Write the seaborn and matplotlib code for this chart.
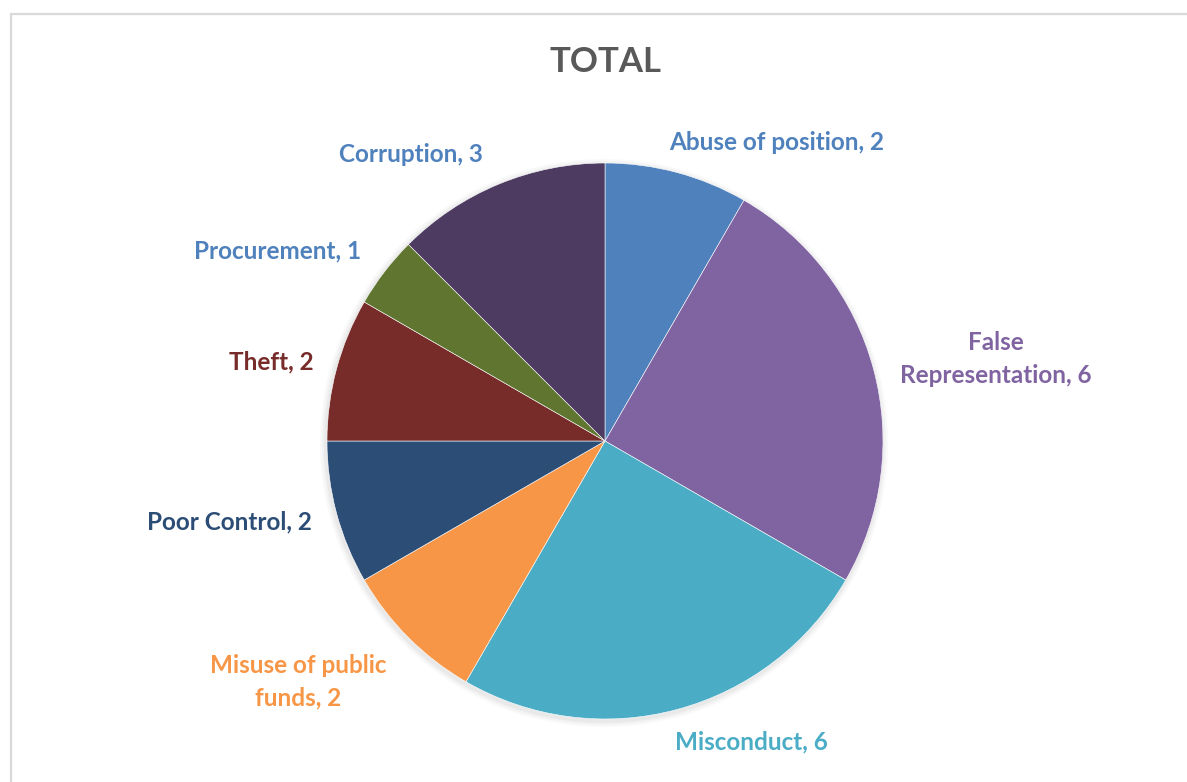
import matplotlib
matplotlib.use("Agg")
import matplotlib.pyplot as plt
import seaborn as sns
from matplotlib.patches import Rectangle

categories = ["Abuse of position", "False Representation", "Misconduct",
              "Misuse of public funds", "Poor Control", "Theft",
              "Procurement", "Corruption"]
values = [2, 6, 6, 2, 2, 2, 1, 3]
label_texts = ["Abuse of position, 2", "False\nRepresentation, 6", "Misconduct, 6",
               "Misuse of public\nfunds, 2", "Poor Control, 2", "Theft, 2",
               "Procurement, 1", "Corruption, 3"]

slice_colors = ["#4F81BD", "#8064A2", "#4BACC6", "#F79646",
                "#2C4D75", "#772C2A", "#5F7530", "#4D3B62"]
label_colors = ["#4F81BD", "#8064A2", "#4BACC6", "#F79646",
                "#2C4D75", "#772C2A", "#4F81BD", "#4F81BD"]
# label centres in pixel coordinates (x, y from top)
label_pos = [(777, 143), (996, 359), (751, 742), (298, 682),
             (229, 522), (271, 362), (278, 251), (411, 155)]

sns.set_theme(style="white")
plt.rcParams['font.family'] = ['Lato', 'DejaVu Sans']

W, H = 1187, 782
fig = plt.figure(figsize=(W / 100, H / 100), dpi=100)
fig.patch.set_facecolor("white")
ax = fig.add_axes([0, 0, 1, 1])

pal = sns.color_palette(slice_colors)
cx, cy, r = 605, H - 441, 278

# soft grey glow (shadow) under the pie
for dr, a in [(6, 0.04), (4, 0.05), (2, 0.07)]:
    ax.pie(values, colors=["#7F7F7F"] * len(values), startangle=90,
           counterclock=False, center=(cx - 1, cy - 2), radius=r + dr,
           frame=True, wedgeprops=dict(linewidth=0, alpha=a))

ax.pie(values, colors=pal, startangle=90, counterclock=False,
       center=(cx, cy), radius=r, frame=True,
       wedgeprops=dict(linewidth=0.4, edgecolor="white"))
ax.set_xlim(0, W)
ax.set_ylim(0, H)
ax.set_aspect("equal")
ax.axis("off")

for txt, (px, py), col in zip(label_texts, label_pos, label_colors):
    ax.text(px, H - py, txt, ha="center", va="center", color=col,
            fontsize=17.5, fontweight="bold", linespacing=1.5)

ax.text(605, H - 62, "TOTAL", ha="center", va="center", color="#595959",
        fontsize=25, fontweight="bold")

fig.patches.append(Rectangle((11 / W, -0.1), 1.2, (H - 14) / H + 0.1,
                             transform=fig.transFigure, fill=False,
                             edgecolor="#D9D9D9", linewidth=1.6))

fig.savefig("out.png", dpi=100, facecolor="white")
